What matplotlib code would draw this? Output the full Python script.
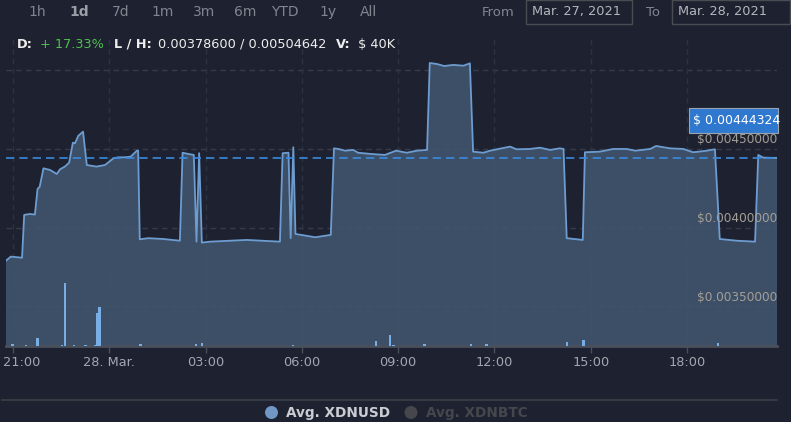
import matplotlib
matplotlib.use("Agg")
import matplotlib.pyplot as plt
from matplotlib.patches import Rectangle, Ellipse
from matplotlib.transforms import ScaledTranslation
import pandas as pd

# ---------------- data ----------------
price_times = [
    "2021-03-27 20:47", "2021-03-27 20:56", "2021-03-27 21:17", "2021-03-27 21:21",
    "2021-03-27 21:32", "2021-03-27 21:41", "2021-03-27 21:46", "2021-03-27 21:50",
    "2021-03-27 21:57", "2021-03-27 22:09", "2021-03-27 22:22", "2021-03-27 22:28",
    "2021-03-27 22:37", "2021-03-27 22:45", "2021-03-27 22:52", "2021-03-27 22:56",
    "2021-03-27 23:02", "2021-03-27 23:11", "2021-03-27 23:18", "2021-03-27 23:36",
    "2021-03-27 23:52", "2021-03-28 00:08", "2021-03-28 00:17", "2021-03-28 00:29",
    "2021-03-28 00:40", "2021-03-28 00:51", "2021-03-28 00:54", "2021-03-28 00:57",
    "2021-03-28 01:13", "2021-03-28 01:41", "2021-03-28 02:12", "2021-03-28 02:17",
    "2021-03-28 02:28", "2021-03-28 02:38", "2021-03-28 02:43", "2021-03-28 02:48",
    "2021-03-28 02:53", "2021-03-28 03:08", "2021-03-28 04:17", "2021-03-28 05:19",
    "2021-03-28 05:24", "2021-03-28 05:35", "2021-03-28 05:39", "2021-03-28 05:44",
    "2021-03-28 05:48", "2021-03-28 06:25", "2021-03-28 06:54", "2021-03-28 07:00",
    "2021-03-28 07:08", "2021-03-28 07:21", "2021-03-28 07:36", "2021-03-28 07:45",
    "2021-03-28 08:10", "2021-03-28 08:35", "2021-03-28 08:56", "2021-03-28 09:16",
    "2021-03-28 09:35", "2021-03-28 09:54", "2021-03-28 09:59", "2021-03-28 10:12",
    "2021-03-28 10:26", "2021-03-28 10:43", "2021-03-28 11:02", "2021-03-28 11:14",
    "2021-03-28 11:20", "2021-03-28 11:39", "2021-03-28 11:52", "2021-03-28 12:29",
    "2021-03-28 12:41", "2021-03-28 13:06", "2021-03-28 13:25", "2021-03-28 13:44",
    "2021-03-28 14:02", "2021-03-28 14:09", "2021-03-28 14:15", "2021-03-28 14:45",
    "2021-03-28 14:49", "2021-03-28 15:17", "2021-03-28 15:42", "2021-03-28 16:07",
    "2021-03-28 16:23", "2021-03-28 16:51", "2021-03-28 17:02", "2021-03-28 17:28",
    "2021-03-28 17:53", "2021-03-28 18:11", "2021-03-28 18:33", "2021-03-28 18:52",
    "2021-03-28 19:01", "2021-03-28 19:33", "2021-03-28 20:07", "2021-03-28 20:13",
    "2021-03-28 20:22", "2021-03-28 20:48",
]
price_values = [
    0.003790, 0.003816, 0.003809, 0.004081,
    0.004087, 0.004083, 0.004246, 0.004260,
    0.004377, 0.004367, 0.004341, 0.004371,
    0.004388, 0.004413, 0.004540, 0.004536,
    0.004583, 0.004610, 0.004398, 0.004388,
    0.004398, 0.004441, 0.004447, 0.004447,
    0.004451, 0.004487, 0.004490, 0.003926,
    0.003933, 0.003928, 0.003917, 0.004476,
    0.004468, 0.004462, 0.003911, 0.004473,
    0.003905, 0.003911, 0.003922, 0.003911,
    0.004473, 0.004476, 0.003933, 0.004511,
    0.003960, 0.003939, 0.003954, 0.004504,
    0.004500, 0.004489, 0.004494, 0.004476,
    0.004468, 0.004462, 0.004489, 0.004476,
    0.004489, 0.004494, 0.005046, 0.005040,
    0.005027, 0.005034, 0.005029, 0.005044,
    0.004483, 0.004476, 0.004489, 0.004515,
    0.004498, 0.004500, 0.004508, 0.004494,
    0.004504, 0.004500, 0.003933, 0.003922,
    0.004479, 0.004483, 0.004500, 0.004500,
    0.004489, 0.004500, 0.004519, 0.004504,
    0.004500, 0.004479, 0.004487, 0.004498,
    0.003928, 0.003917, 0.003911, 0.004462,
    0.004445, 0.004443,
]

volume_times = [
    "2021-03-27 20:59", "2021-03-27 21:24", "2021-03-27 21:46", "2021-03-27 22:32",
    "2021-03-27 22:37", "2021-03-27 22:54", "2021-03-27 23:16", "2021-03-27 23:34",
    "2021-03-27 23:38", "2021-03-27 23:42", "2021-03-28 00:58", "2021-03-28 02:42",
    "2021-03-28 02:53", "2021-03-28 05:43", "2021-03-28 08:19", "2021-03-28 08:45",
    "2021-03-28 08:51", "2021-03-28 09:49", "2021-03-28 11:16", "2021-03-28 11:45",
    "2021-03-28 14:16", "2021-03-28 14:46", "2021-03-28 18:58",
]
volume_values = [
    360, 110, 1560, 210,
    13300, 110, 110, 210,
    7050, 8270, 360, 430,
    640, 110, 1000, 2290,
    210, 320, 320, 320,
    850, 1220, 640,
]

current_price = 0.00444324
tick_times = ["2021-03-27 21:00", "2021-03-28 00:00", "2021-03-28 03:00", "2021-03-28 06:00",
              "2021-03-28 09:00", "2021-03-28 12:00", "2021-03-28 15:00", "2021-03-28 18:00"]
tick_labels = ["21:00", "28. Mar.", "03:00", "06:00", "09:00", "12:00", "15:00", "18:00"]
price_grid = [0.0035, 0.0040, 0.0045, 0.0050]
price_labels = ["$0.00350000", "$0.00400000", "$0.00450000"]
range_buttons = ["1h", "1d", "7d", "1m", "3m", "6m", "YTD", "1y", "All"]
date_from = "Mar. 27, 2021"
date_to = "Mar. 28, 2021"
stat_change = "+ 17.33%"
stat_lh = "0.00378600 / 0.00504642"
stat_vol = "$ 40K"
legend_names = ["Avg. XDNUSD", "Avg. XDNBTC"]

# ---------------- style ----------------
BG = "#1e2230"
W, H = 791, 422
plt.rcParams['font.family'] = ['DejaVu Sans']

fig = plt.figure(figsize=(W / 100, H / 100), dpi=100)
fig.patch.set_facecolor(BG)

def fx(px):
    return px / W

def fy(py):
    return 1 - py / H

ax_left, ax_right, ax_top, ax_bottom = 6, 777, 38, 345.7
ax = fig.add_axes([fx(ax_left), fy(ax_bottom), fx(ax_right - ax_left), (ax_bottom - ax_top) / H])
ax.set_facecolor(BG)

pt = pd.to_datetime(price_times)
vt = pd.to_datetime(volume_times)
xmin = pd.Timestamp("2021-03-27 20:47")
xmax = pd.Timestamp("2021-03-28 20:48")

# grid lines
for g in price_grid:
    ax.axhline(g, color="#363b4a", lw=1, ls=(0, (4, 3)), zorder=0)
for t in pd.to_datetime(tick_times):
    ax.axvline(t, color="#2d3240", lw=1, ls=(0, (4, 3)), zorder=0)

ax.fill_between(pt, price_values, 0, color="#40556e", alpha=0.9, lw=0, zorder=1)
ax.plot(pt, price_values, color="#6d9cd0", lw=1.3, zorder=3)
ax.axhline(current_price, color="#3a8ae0", lw=1.2, ls=(0, (5, 3)), zorder=4)

ax.set_xlim(xmin, xmax)
ax.set_ylim(0.003250, 0.005205)

for s in ["top", "left", "right"]:
    ax.spines[s].set_visible(False)
ax.spines["bottom"].set_color("#4a4f5c")
ax.spines["bottom"].set_linewidth(2)
ax.spines["bottom"].set_zorder(6)

ax.set_yticks([])
ax.set_xticks(pd.to_datetime(tick_times))
ax.set_xticklabels(tick_labels)
ax.tick_params(axis="x", colors="#4a4f5c", length=5, width=1, labelcolor="#a2a7b0",
               labelsize=9.3, pad=2.5)
first = ax.get_xticklabels()[0]
first.set_horizontalalignment("left")
first.set_transform(first.get_transform() + ScaledTranslation(-10 / 100, 0, fig.dpi_scale_trans))

# price labels on right inside plot
for g, lab in zip(price_grid[:3], price_labels):
    ax.annotate(lab, xy=(1, g), xycoords=("axes fraction", "data"), xytext=(0, 2),
                textcoords="offset points", ha="right", va="bottom",
                fontsize=8.7, color="#a39e96", zorder=7)

# volume axis
axv = ax.twinx()
axv.set_ylim(0, 65700)
axv.bar(vt, volume_values, width=4.6 / 1440, color="#78aee4", zorder=5, align="center")
axv.set_yticks([])
for s in axv.spines.values():
    s.set_visible(False)
axv.set_xlim(xmin, xmax)

# current price box
box_x0, box_x1, box_y0, box_y1 = 689, 778, 108, 133
fig.patches.append(Rectangle((fx(box_x0), fy(box_y1)), fx(box_x1 - box_x0), (box_y1 - box_y0) / H,
                             transform=fig.transFigure, facecolor="#2f78cf", edgecolor="#9aa3b0",
                             lw=0.8, zorder=10))
fig.text(fx(693), fy((box_y0 + box_y1) / 2 + 0.5), f"$ {current_price:.8f}", color="white",
         fontsize=9, va="center", ha="left", zorder=11)

# top range buttons
btn_x = [37.5, 79.5, 120.3, 162.5, 203.7, 245, 285.3, 328.3, 369]
for bx, lab in zip(btn_x, range_buttons):
    bold = lab == "1d"
    fig.text(fx(bx), fy(12), lab, ha="center", va="center", fontsize=10,
             color="#9a9ea6" if bold else "#80858f", fontweight="bold" if bold else "normal")

fig.text(fx(498), fy(12), "From", ha="center", va="center", fontsize=9.5, color="#80858f")
fig.text(fx(653), fy(12), "To", ha="center", va="center", fontsize=9.5, color="#80858f")
for x0, x1, lab in [(526, 632, date_from), (672, 790, date_to)]:
    fig.patches.append(Rectangle((fx(x0), fy(24)), fx(x1 - x0), 24 / H, transform=fig.transFigure,
                                 facecolor=BG, edgecolor="#4a4c52", lw=1))
    fig.text(fx(x0 + 6), fy(12), lab, ha="left", va="center", fontsize=9.3, color="#b3b6bb")

# stats line
sy = fy(44)
fig.text(fx(17), sy, "D:", fontsize=9.3, fontweight="bold", color="#eeeeee", va="center")
fig.text(fx(40.5), sy, stat_change, fontsize=9.3, color="#4fc04f", va="center")
fig.text(fx(114), sy, "L / H:", fontsize=9.3, fontweight="bold", color="#eeeeee", va="center")
fig.text(fx(158), sy, stat_lh, fontsize=9.3, color="#eeeeee", va="center")
fig.text(fx(336), sy, "V:", fontsize=9.3, fontweight="bold", color="#eeeeee", va="center")
fig.text(fx(358), sy, stat_vol, fontsize=9.3, color="#eeeeee", va="center")

# legend
fig.add_artist(plt.Line2D([fx(2), fx(777)], [fy(400.3), fy(400.3)], transform=fig.transFigure,
                          color="#3b3f48", lw=1.2))
ly = 412.5
fig.add_artist(Ellipse((fx(271.5), fy(ly)), 13 / W, 13 / H, transform=fig.transFigure,
                       facecolor="#7197c4", edgecolor="none"))
fig.text(fx(286.5), fy(ly), legend_names[0], fontsize=9.8, fontweight="bold",
         color="#c9ccd2", va="center", ha="left")
fig.add_artist(Ellipse((fx(411), fy(ly)), 13 / W, 13 / H, transform=fig.transFigure,
                       facecolor="#45474d", edgecolor="none"))
fig.text(fx(426), fy(ly), legend_names[1], fontsize=9.8, fontweight="bold",
         color="#45474d", va="center", ha="left")

fig.savefig("out.png", dpi=100, facecolor=BG)
